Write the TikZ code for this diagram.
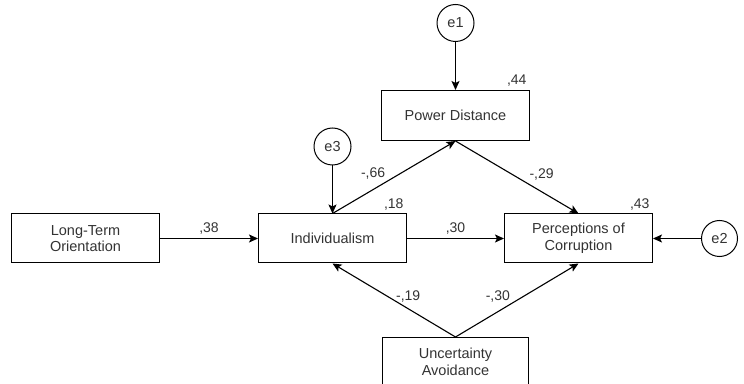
\documentclass[tikz,border=0pt]{standalone}
\usepackage{fontspec}
\setmainfont{Liberation Sans}
\usepackage{tikz}
\usetikzlibrary{arrows.meta, positioning}
\tikzset{
    block/.style={rectangle, draw, line width=1pt, align=center, minimum width=148pt, minimum height=49pt, font=\fontsize{14.5pt}{16.7pt}\selectfont, text=black!80},
    err/.style={circle, draw, line width=1pt, minimum size=37pt, inner sep=0pt, font=\fontsize{14.5pt}{16.7pt}\selectfont, text=black!80},
    coef/.style={font=\fontsize{14pt}{16pt}\selectfont, text=black!80},
    arrow/.style={line width=1.1pt, -{Stealth[length=9pt, width=8pt, inset=2pt]}}
}
\begin{document}
\begin{tikzpicture}[node distance=2cm]
        \useasboundingbox (0,0) rectangle (744pt,383pt);

        % Main row
        \node (Ind) [block] at (332.5pt,144.5pt) {Individualism};
        \node (LTO) [block, left=98pt of Ind] {Long-Term\\Orientation};
        \node (PC) [block, right=97pt of Ind] {Perceptions of\\Corruption};
        \path (Ind) -- (PC) coordinate[midway] (mid);

        % Mediator and moderator
        \node (PD) [block, above=97.5pt of mid, minimum height=50pt] {Power Distance};
        \node (UA) [block, below=98.5pt of mid, minimum width=146pt] {Uncertainty\\Avoidance};

        % Error terms
        \node (e1) [err, above=48pt of PD] {e1};
        \node (e3) [err, above=48pt of Ind] {e3};
        \node (e2) [err, right=48pt of PC, minimum size=36pt] {e2};

        \draw [arrow] (e1.south) -- (PD.north);
        \draw [arrow] (e3.south) -- (Ind.north);
        \draw [arrow] (e2.west) -- (PC.east);

        % Paths
        \draw [arrow] (LTO.east) -- node (c38) [coef, midway, anchor=south] {,38} (Ind.west);
        \draw [arrow] (Ind.east) -- node (c30a) [coef, midway, anchor=south] {,30} (PC.west);
        \draw [arrow] (Ind.north) -- node (c66) [coef, pos=0.33, anchor=south, yshift=6pt] {-,66} (PD.south);
        \draw [arrow] (PD.south) -- node (c29) [coef, pos=0.7, anchor=south, yshift=8pt] {-,29} (PC.north);
        \draw [arrow] (UA.north) -- node (c19) [coef, pos=0.385, anchor=south, yshift=3pt] {-,19} (Ind.south);
        \draw [arrow] (UA.north) -- node (c30b) [coef, pos=0.344, anchor=south, yshift=6pt] {-,30} (PC.south);

        % Explained variance
        \node (r44) [coef, anchor=south east] at (PD.north east) {,44};
        \node (r18) [coef, anchor=south east] at (Ind.north east) {,18};
        \node (r43) [coef, anchor=south east] at (PC.north east) {,43};
    \end{tikzpicture}
\end{document}
